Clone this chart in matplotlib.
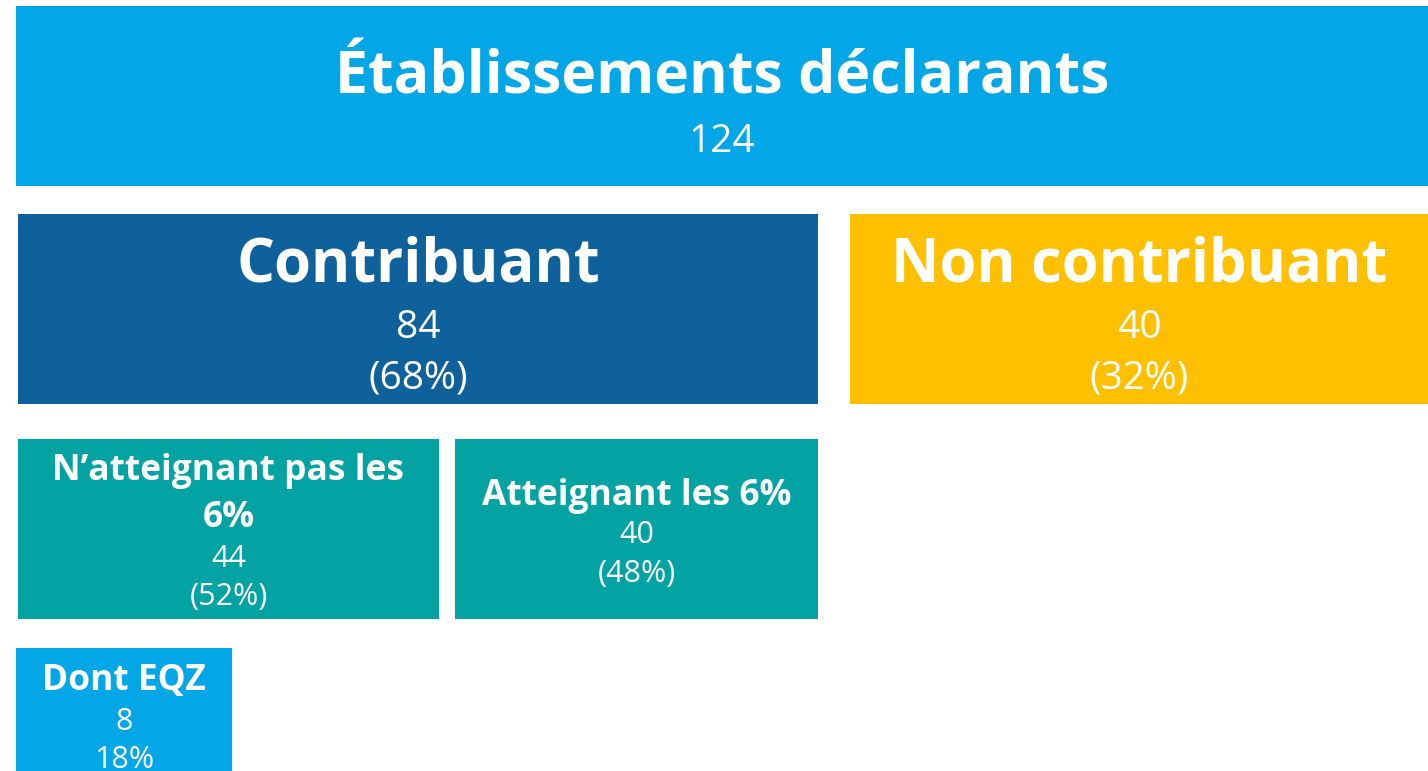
import matplotlib
matplotlib.use("Agg")
import matplotlib.pyplot as plt
from matplotlib.patches import Rectangle

# Data
labels = ["Établissements déclarants", "Contribuant", "Non contribuant",
          "N’atteignant pas les\n6%", "Atteignant les 6%", "Dont EQZ"]
counts = [124, 84, 40, 44, 40, 8]
shares = [None, "(68%)", "(32%)", "(52%)", "(48%)", "18%"]

# Layout (pixels: x0, y0, x1, y1) and style
boxes = [(16, 6, 1428, 186), (18, 214, 818, 404), (850, 214, 1428, 404),
         (18, 439, 439, 619), (455, 439, 818, 619), (16, 648, 232, 771)]
colors = ["#03A6E7", "#0F619C", "#FFC000", "#03A3A3", "#03A3A3", "#03A6E7"]
title_sizes = [42.5, 43, 43, 25.5, 25.5, 25.5]
num_sizes = [28, 28, 28, 22, 22, 22]
title_base = [93, 282, 282, 480, 505, 690]   # baseline of first title line
line_gap = 47
num_base = [152, 338, 338, 567, 543, 730]
share_base = [None, 388, 388, 605, 582, 768]

fig = plt.figure(figsize=(14.28, 7.71), dpi=100)
ax = fig.add_axes([0, 0, 1, 1])
ax.set_xlim(0, 1428)
ax.set_ylim(771, 0)
ax.axis("off")

for i, (x0, y0, x1, y1) in enumerate(boxes):
    ax.add_patch(Rectangle((x0, y0), x1 - x0, y1 - y0, facecolor=colors[i],
                           edgecolor="none", clip_on=False))
    cx = (x0 + x1) / 2
    for k, line in enumerate(labels[i].split("\n")):
        ax.text(cx, title_base[i] + k * line_gap, line, ha="center",
                va="baseline", color="white", fontsize=title_sizes[i],
                fontweight="bold", family="Open Sans")
    ax.text(cx, num_base[i], str(counts[i]), ha="center", va="baseline",
            color="white", fontsize=num_sizes[i], family="Open Sans")
    if shares[i]:
        ax.text(cx, share_base[i], shares[i], ha="center", va="baseline",
                color="white", fontsize=num_sizes[i], family="Open Sans")

fig.savefig("out.png", dpi=100, facecolor="white")
